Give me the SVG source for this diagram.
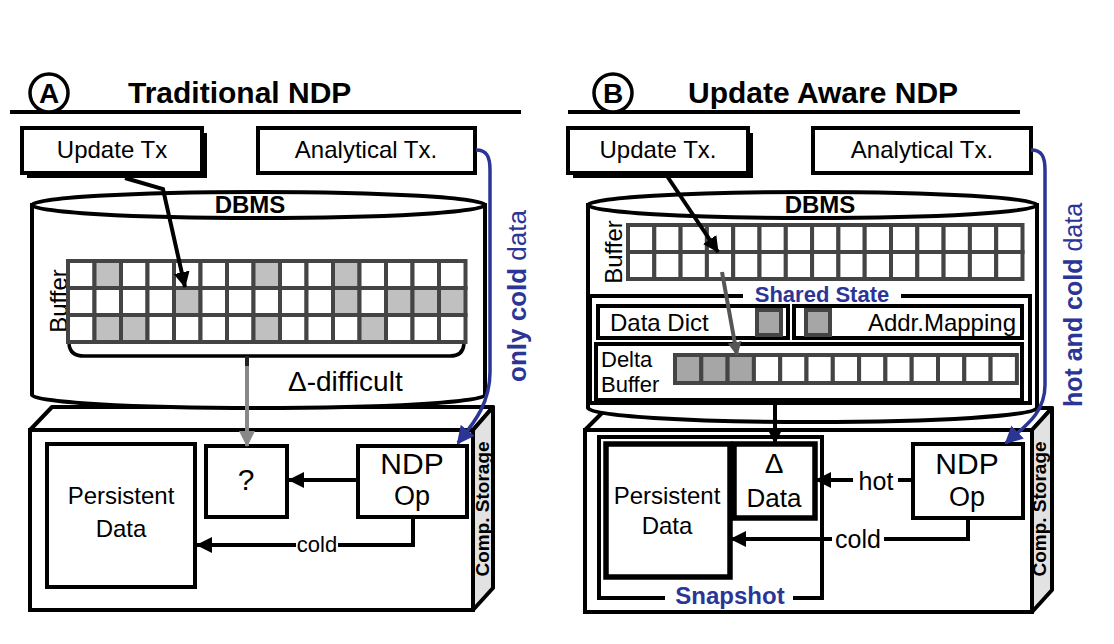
<svg xmlns="http://www.w3.org/2000/svg" width="1114" height="644" viewBox="0 0 1114 644">
<defs>
<marker id="ab" markerWidth="16" markerHeight="16" refX="15" refY="8" orient="auto" markerUnits="userSpaceOnUse"><path d="M0,0 L16,8 L0,16 z" fill="#000"/></marker>
<marker id="ag" markerWidth="16" markerHeight="16" refX="15" refY="8" orient="auto" markerUnits="userSpaceOnUse"><path d="M0,0 L16,8 L0,16 z" fill="#888"/></marker>
<marker id="ad" markerWidth="14" markerHeight="14" refX="13" refY="7" orient="auto" markerUnits="userSpaceOnUse"><path d="M0,0 L14,7 L0,14 z" fill="#555"/></marker>
<marker id="au" markerWidth="18" markerHeight="18" refX="16" refY="9" orient="auto" markerUnits="userSpaceOnUse"><path d="M0,0 L18,9 L0,18 z" fill="#2b3595"/></marker>
</defs>
<style>
text{font-family:"Liberation Sans",Arial,sans-serif;fill:#000}
.b{font-weight:bold}
.box{fill:#fff;stroke:#000;stroke-width:4}
.thick{fill:#fff;stroke:#000;stroke-width:5.5}
.c{fill:#fff;stroke:#444;stroke-width:4}
.c.g{fill:#c0c0c0}
.c.d{fill:#a6a6a6}
.blue{fill:#2b3595}
.ln{fill:none;stroke:#000;stroke-width:4}
.bl{fill:none;stroke:#2b3595;stroke-width:3.5}
.side{fill:#e2e2e2;stroke:#000;stroke-width:4;stroke-linejoin:round}
.t24{font-size:24px}
.m{text-anchor:middle}
</style>
<rect x="0" y="0" width="1114" height="644" fill="#fff"/>

<!-- ========== Panel A ========== -->
<g id="headerA">
  <line x1="10" y1="112" x2="521" y2="112" stroke="#000" stroke-width="4"/>
  <circle cx="49" cy="93" r="19" fill="#fff" stroke="#000" stroke-width="3.5"/>
  <text x="49" y="103" class="b m" font-size="28">A</text>
  <text x="128" y="103" class="b" font-size="30">Traditional NDP</text>
</g>
<g id="updateTxA">
  <rect x="27" y="133" width="180" height="45" fill="#000"/>
  <rect x="22" y="128" width="180" height="45" class="box"/>
  <text x="112" y="158" class="m t24">Update Tx</text>
</g>
<g id="analyticalTxA">
  <rect x="258" y="128" width="217" height="45" class="box"/>
  <text x="366" y="158" class="m t24">Analytical Tx.</text>
</g>
<g id="storageA">
  <polygon points="30,430 52,407 493,407 473,430" fill="#fff" stroke="#000" stroke-width="4" stroke-linejoin="round"/>
  <polygon points="473,430 493,407 493,588 473,610" class="side"/>
  <rect x="30" y="430" width="443" height="180" class="box"/>
  <text transform="translate(489,509) rotate(-90)" class="b m" font-size="19">Comp. Storage</text>
</g>
<g id="dbmsA">
  <path d="M32,205 L32,395 A226.5,13 0 0 0 485,395 L485,205 Z" fill="#fff" stroke="#000" stroke-width="4"/>
  <ellipse cx="258.5" cy="205" rx="226.5" ry="13" fill="#fff" stroke="#000" stroke-width="4"/>
  <text x="250" y="213" class="b m" font-size="24">DBMS</text>
  <text x="288" y="391" font-size="28">Δ-difficult</text>
</g>
<g id="bufferA">
  <text transform="translate(67,301) rotate(-90)" class="m t24">Buffer</text>
  <rect x="68" y="261" width="26.5" height="27" class="c"/>
  <rect x="94.5" y="261" width="26.5" height="27" class="c g"/>
  <rect x="121" y="261" width="26.5" height="27" class="c"/>
  <rect x="147.5" y="261" width="26.5" height="27" class="c"/>
  <rect x="174" y="261" width="26.5" height="27" class="c"/>
  <rect x="200.5" y="261" width="26.5" height="27" class="c"/>
  <rect x="227" y="261" width="26.5" height="27" class="c"/>
  <rect x="253.5" y="261" width="26.5" height="27" class="c g"/>
  <rect x="280" y="261" width="26.5" height="27" class="c"/>
  <rect x="306.5" y="261" width="26.5" height="27" class="c"/>
  <rect x="333" y="261" width="26.5" height="27" class="c g"/>
  <rect x="359.5" y="261" width="26.5" height="27" class="c"/>
  <rect x="386" y="261" width="26.5" height="27" class="c"/>
  <rect x="412.5" y="261" width="26.5" height="27" class="c"/>
  <rect x="439" y="261" width="26.5" height="27" class="c"/>

  <rect x="68" y="288" width="26.5" height="27" class="c"/>
  <rect x="94.5" y="288" width="26.5" height="27" class="c"/>
  <rect x="121" y="288" width="26.5" height="27" class="c"/>
  <rect x="147.5" y="288" width="26.5" height="27" class="c"/>
  <rect x="174" y="288" width="26.5" height="27" class="c g"/>
  <rect x="200.5" y="288" width="26.5" height="27" class="c"/>
  <rect x="227" y="288" width="26.5" height="27" class="c"/>
  <rect x="253.5" y="288" width="26.5" height="27" class="c"/>
  <rect x="280" y="288" width="26.5" height="27" class="c"/>
  <rect x="306.5" y="288" width="26.5" height="27" class="c"/>
  <rect x="333" y="288" width="26.5" height="27" class="c g"/>
  <rect x="359.5" y="288" width="26.5" height="27" class="c"/>
  <rect x="386" y="288" width="26.5" height="27" class="c g"/>
  <rect x="412.5" y="288" width="26.5" height="27" class="c g"/>
  <rect x="439" y="288" width="26.5" height="27" class="c g"/>

  <rect x="68" y="315" width="26.5" height="27" class="c"/>
  <rect x="94.5" y="315" width="26.5" height="27" class="c g"/>
  <rect x="121" y="315" width="26.5" height="27" class="c g"/>
  <rect x="147.5" y="315" width="26.5" height="27" class="c"/>
  <rect x="174" y="315" width="26.5" height="27" class="c"/>
  <rect x="200.5" y="315" width="26.5" height="27" class="c"/>
  <rect x="227" y="315" width="26.5" height="27" class="c"/>
  <rect x="253.5" y="315" width="26.5" height="27" class="c g"/>
  <rect x="280" y="315" width="26.5" height="27" class="c"/>
  <rect x="306.5" y="315" width="26.5" height="27" class="c"/>
  <rect x="333" y="315" width="26.5" height="27" class="c"/>
  <rect x="359.5" y="315" width="26.5" height="27" class="c g"/>
  <rect x="386" y="315" width="26.5" height="27" class="c"/>
  <rect x="412.5" y="315" width="26.5" height="27" class="c"/>
  <rect x="439" y="315" width="26.5" height="27" class="c"/>
  <path d="M69,344 Q70,356 84,356 L450,356 Q463,356 464,344" fill="none" stroke="#000" stroke-width="3.5"/>
</g>
<g id="persistentA">
  <rect x="47" y="444" width="148" height="143" class="box"/>
  <text x="121" y="504" class="m t24">Persistent</text>
  <text x="121" y="537" class="m t24">Data</text>
</g>
<g id="questionA">
  <rect x="206" y="446" width="81" height="71" class="box"/>
  <text x="246" y="490" class="m" font-size="30">?</text>
</g>
<g id="ndpOpA">
  <rect x="358" y="446" width="109" height="71" class="box"/>
  <text x="412" y="474" class="m" font-size="30">NDP</text>
  <text x="412" y="505" class="m" font-size="27">Op</text>
</g>
<text transform="translate(526,296) rotate(-90)" class="m blue" font-size="26"><tspan class="b">only cold </tspan><tspan>data</tspan></text>

<!-- ========== Panel B ========== -->
<g id="headerB">
  <line x1="568" y1="112" x2="1020" y2="112" stroke="#000" stroke-width="4"/>
  <circle cx="613" cy="93" r="19" fill="#fff" stroke="#000" stroke-width="3.5"/>
  <text x="613" y="103" class="b m" font-size="28">B</text>
  <text x="688" y="103" class="b" font-size="30">Update Aware NDP</text>
</g>
<g id="updateTxB">
  <rect x="573" y="133" width="180" height="45" fill="#000"/>
  <rect x="568" y="128" width="180" height="45" class="box"/>
  <text x="658" y="158" class="m t24">Update Tx.</text>
</g>
<g id="analyticalTxB">
  <rect x="813" y="128" width="218" height="45" class="box"/>
  <text x="922" y="158" class="m t24">Analytical Tx.</text>
</g>
<g id="storageB">
  <polygon points="585,430 607,408 1052,408 1032,430" fill="#fff" stroke="#000" stroke-width="4" stroke-linejoin="round"/>
  <polygon points="1032,430 1052,408 1052,590 1032,612" class="side"/>
  <rect x="585" y="430" width="447" height="182" class="box"/>
  <text transform="translate(1046,509) rotate(-90)" class="b m" font-size="19">Comp. Storage</text>
</g>
<g id="dbmsB">
  <path d="M588,205 L588,408 A224.5,14 0 0 0 1037,408 L1037,205 Z" fill="#fff" stroke="#000" stroke-width="4"/>
  <ellipse cx="812.5" cy="205" rx="224.5" ry="13" fill="#fff" stroke="#000" stroke-width="4"/>
  <text x="820" y="213" class="b m" font-size="24">DBMS</text>
</g>
<g id="bufferB">
  <text transform="translate(622,252) rotate(-90)" class="m t24">Buffer</text>
  <rect x="628" y="225" width="26.3" height="27" class="c"/>
  <rect x="654.3" y="225" width="26.3" height="27" class="c"/>
  <rect x="680.6" y="225" width="26.3" height="27" class="c"/>
  <rect x="706.9" y="225" width="26.3" height="27" class="c"/>
  <rect x="733.2" y="225" width="26.3" height="27" class="c"/>
  <rect x="759.5" y="225" width="26.3" height="27" class="c"/>
  <rect x="785.8" y="225" width="26.3" height="27" class="c"/>
  <rect x="812.1" y="225" width="26.3" height="27" class="c"/>
  <rect x="838.4" y="225" width="26.3" height="27" class="c"/>
  <rect x="864.7" y="225" width="26.3" height="27" class="c"/>
  <rect x="891" y="225" width="26.3" height="27" class="c"/>
  <rect x="917.3" y="225" width="26.3" height="27" class="c"/>
  <rect x="943.6" y="225" width="26.3" height="27" class="c"/>
  <rect x="969.9" y="225" width="26.3" height="27" class="c"/>
  <rect x="996.2" y="225" width="26.3" height="27" class="c"/>
  <rect x="628" y="252" width="26.3" height="27" class="c"/>
  <rect x="654.3" y="252" width="26.3" height="27" class="c"/>
  <rect x="680.6" y="252" width="26.3" height="27" class="c"/>
  <rect x="706.9" y="252" width="26.3" height="27" class="c"/>
  <rect x="733.2" y="252" width="26.3" height="27" class="c"/>
  <rect x="759.5" y="252" width="26.3" height="27" class="c"/>
  <rect x="785.8" y="252" width="26.3" height="27" class="c"/>
  <rect x="812.1" y="252" width="26.3" height="27" class="c"/>
  <rect x="838.4" y="252" width="26.3" height="27" class="c"/>
  <rect x="864.7" y="252" width="26.3" height="27" class="c"/>
  <rect x="891" y="252" width="26.3" height="27" class="c"/>
  <rect x="917.3" y="252" width="26.3" height="27" class="c"/>
  <rect x="943.6" y="252" width="26.3" height="27" class="c"/>
  <rect x="969.9" y="252" width="26.3" height="27" class="c"/>
  <rect x="996.2" y="252" width="26.3" height="27" class="c"/>
</g>
<g id="sharedState">
  <rect x="590" y="296" width="440" height="107" fill="none" stroke="#000" stroke-width="4"/>
  <rect x="743" y="286" width="158" height="20" fill="#fff"/>
  <text x="822" y="302" class="b m blue" font-size="22">Shared State</text>
</g>
<g id="dataDict">
  <rect x="598" y="306" width="190" height="32" class="box"/>
  <text x="610" y="331" class="t24">Data Dict</text>
  <rect x="757" y="310" width="24" height="25" class="c d"/>
</g>
<g id="addrMapping">
  <rect x="794" y="306" width="228" height="32" class="box"/>
  <rect x="806" y="310" width="24" height="25" class="c d"/>
  <text x="1016" y="331" class="t24" text-anchor="end">Addr.Mapping</text>
</g>
<g id="deltaBuffer">
  <rect x="596" y="344" width="426" height="56" class="box"/>
  <text x="601" y="367" font-size="22">Delta</text>
  <text x="601" y="392" font-size="22">Buffer</text>
  <rect x="675" y="355" width="26.3" height="28" class="c d"/>
  <rect x="701.3" y="355" width="26.3" height="28" class="c d"/>
  <rect x="727.6" y="355" width="26.3" height="28" class="c d"/>
  <rect x="753.9" y="355" width="26.3" height="28" class="c"/>
  <rect x="780.2" y="355" width="26.3" height="28" class="c"/>
  <rect x="806.5" y="355" width="26.3" height="28" class="c"/>
  <rect x="832.8" y="355" width="26.3" height="28" class="c"/>
  <rect x="859.1" y="355" width="26.3" height="28" class="c"/>
  <rect x="885.4" y="355" width="26.3" height="28" class="c"/>
  <rect x="911.7" y="355" width="26.3" height="28" class="c"/>
  <rect x="938" y="355" width="26.3" height="28" class="c"/>
  <rect x="964.3" y="355" width="26.3" height="28" class="c"/>
  <rect x="990.6" y="355" width="26.3" height="28" class="c"/>
</g>
<g id="snapshot">
  <path d="M665,598 L599,598 L599,437 L822,437 L822,598 L793,598" class="ln"/>
  <text x="730" y="604" class="b m blue" font-size="24">Snapshot</text>
</g>
<g id="persistentB">
  <rect x="606" y="444" width="124" height="133" class="thick"/>
  <text x="667" y="504" class="m t24">Persistent</text>
  <text x="667" y="534" class="m t24">Data</text>
</g>
<g id="deltaDataB">
  <rect x="734" y="444" width="81" height="74" class="thick"/>
  <text x="774" y="473" class="m" font-size="28">Δ</text>
  <text x="774" y="507" class="m" font-size="26">Data</text>
</g>
<g id="ndpOpB">
  <rect x="913" y="444" width="110" height="74" class="box"/>
  <text x="967" y="474" class="m" font-size="30">NDP</text>
  <text x="967" y="506" class="m" font-size="27">Op</text>
</g>
<text transform="translate(1082,305) rotate(-90)" class="m blue" font-size="25"><tspan class="b">hot and cold </tspan><tspan>data</tspan></text>

<!-- ========== Connectors ========== -->
<g id="connectors">
  <path d="M125,178 L163,189 L185,287" class="ln" stroke-width="4" marker-end="url(#ab)"/>
  <line x1="247" y1="356" x2="247" y2="367" stroke="#222" stroke-width="4"/>
  <line x1="247" y1="366" x2="247" y2="446" stroke="#888" stroke-width="4" marker-end="url(#ag)"/>
  <line x1="358" y1="480" x2="289" y2="480" class="ln" marker-end="url(#ab)"/>
  <path d="M413,517 L413,545 L197,545" class="ln" marker-end="url(#ab)"/>
  <rect x="296" y="533" width="42" height="22" fill="#fff"/>
  <text x="317" y="552" class="m" font-size="22">cold</text>
  <path d="M476,150 C487,150 490,157 490,170 L490,372 C490,405 472,425 458,443" class="bl" marker-end="url(#au)"/>

  <path d="M665,173 L718,252" class="ln" marker-end="url(#ab)"/>
  <line x1="722" y1="272" x2="737" y2="355" stroke="#555" stroke-width="4" marker-end="url(#ad)"/>
  <line x1="775" y1="403" x2="775" y2="443" class="ln" marker-end="url(#ab)"/>
  <line x1="913" y1="480" x2="816" y2="480" class="ln" marker-end="url(#ab)"/>
  <rect x="853" y="466" width="45" height="26" fill="#fff"/>
  <text x="876" y="490" class="m" font-size="25">hot</text>
  <path d="M968,518 L968,539 L731,539" class="ln" marker-end="url(#ab)"/>
  <rect x="832" y="525" width="52" height="26" fill="#fff"/>
  <text x="858" y="548" class="m" font-size="25">cold</text>
  <path d="M1031,150 C1042,150 1045,157 1045,170 L1045,385 C1045,415 1022,428 1006,443" class="bl" marker-end="url(#au)"/>
</g>
</svg>
